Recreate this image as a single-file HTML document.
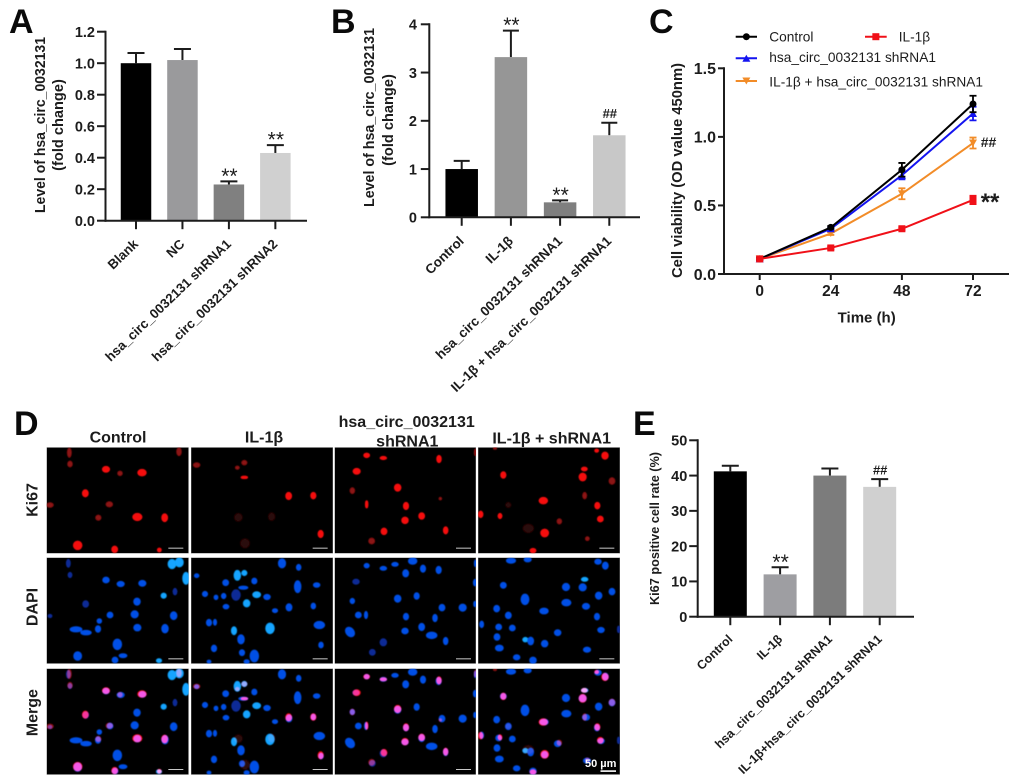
<!DOCTYPE html>
<html lang="en">
<head>
<meta charset="utf-8">
<title>hsa_circ_0032131 figure</title>
<style>
html,body{margin:0;padding:0;background:#fff;width:1020px;height:783px;overflow:hidden}
#fig{filter:blur(.35px)}
svg text{font-family:"Liberation Sans",Arial,sans-serif;fill:#1c1c1c}
.pl{font-size:34px;font-weight:bold;fill:#0a0a0a}
.ti{font-weight:bold;font-size:14.6px}
.hd{font-weight:bold;font-size:16px;text-anchor:middle}
.lg{font-size:13.7px}
ellipse{stroke-width:2.5}
.b{fill:#0650e6;stroke:#0650e6}.c{fill:#12a4ff;stroke:#12a4ff}.d{fill:#0a2c96;stroke:#0a2c96}
.r{fill:#f50f0f;stroke:#f50f0f}.s{fill:#8a1212;stroke:#8a1212}.v{fill:#2c0707;stroke:#2c0707}
.sb{fill:#c8c8c8}
svg svg>rect:first-child{stroke:#999;stroke-width:2}
</style>
</head>
<body>
<svg id="fig" xmlns="http://www.w3.org/2000/svg" width="1020" height="783" viewBox="0 0 1020 783">
<defs>
<filter id="soft" x="-5%" y="-5%" width="110%" height="110%"><feGaussianBlur stdDeviation="1.6"/></filter>
<g id="k1" filter="url(#soft)">
<ellipse class="s" cx="208" cy="158" rx="6" ry="14"/><ellipse class="s" cx="210" cy="192" rx="7" ry="9"/><ellipse class="r" cx="318" cy="208" rx="11" ry="9"/><ellipse class="s" cx="360" cy="220" rx="7" ry="7"/><ellipse class="r" cx="426" cy="218" rx="13" ry="10"/><ellipse class="r" cx="256" cy="280" rx="9" ry="11"/><ellipse class="s" cx="150" cy="315" rx="10" ry="7"/><ellipse class="s" cx="328" cy="313" rx="10" ry="8"/><ellipse class="s" cx="295" cy="353" rx="8" ry="8"/><ellipse class="r" cx="412" cy="351" rx="14" ry="11"/><ellipse class="r" cx="494" cy="353" rx="9" ry="12"/><ellipse class="r" cx="233" cy="436" rx="13" ry="13"/><ellipse class="r" cx="344" cy="448" rx="9" ry="10"/><ellipse class="r" cx="478" cy="450" rx="6" ry="6"/><ellipse class="s" cx="537" cy="155" rx="7" ry="12"/>
</g>
<g id="k2" filter="url(#soft)">
<ellipse class="s" cx="590" cy="195" rx="10" ry="7"/><ellipse class="s" cx="733" cy="188" rx="8" ry="7"/><ellipse class="s" cx="712" cy="203" rx="6" ry="5"/><ellipse class="r" cx="733" cy="232" rx="10" ry="4"/><ellipse class="r" cx="866" cy="288" rx="9" ry="11"/><ellipse class="r" cx="940" cy="287" rx="8" ry="10"/><ellipse class="r" cx="962" cy="402" rx="8" ry="11"/><ellipse class="v" cx="715" cy="352" rx="12" ry="12"/><ellipse class="v" cx="815" cy="350" rx="10" ry="12"/><ellipse class="v" cx="735" cy="430" rx="14" ry="14"/>
</g>
<g id="k3" filter="url(#soft)">
<ellipse class="r" cx="110" cy="166" rx="9" ry="7"/><ellipse class="r" cx="160" cy="174" rx="10" ry="5"/><ellipse class="r" cx="327" cy="177" rx="7" ry="11"/><ellipse class="r" cx="80" cy="214" rx="11" ry="9"/><ellipse class="r" cx="203" cy="263" rx="10" ry="11"/><ellipse class="s" cx="67" cy="272" rx="7" ry="9"/><ellipse class="r" cx="110" cy="313" rx="4" ry="11"/><ellipse class="r" cx="228" cy="318" rx="8" ry="11"/><ellipse class="r" cx="225" cy="361" rx="10" ry="10"/><ellipse class="r" cx="275" cy="348" rx="9" ry="10"/><ellipse class="r" cx="347" cy="391" rx="7" ry="11"/><ellipse class="r" cx="162" cy="394" rx="9" ry="10"/><ellipse class="s" cx="125" cy="423" rx="9" ry="9"/><ellipse class="s" cx="331" cy="296" rx="4" ry="4"/><ellipse class="s" cx="436" cy="157" rx="3" ry="10"/>
</g>
<g id="k4" filter="url(#soft)">
<ellipse class="r" cx="520" cy="225" rx="8" ry="10"/><ellipse class="r" cx="640" cy="302" rx="13" ry="10"/><ellipse class="r" cx="758" cy="231" rx="11" ry="12"/><ellipse class="r" cx="763" cy="207" rx="9" ry="6"/><ellipse class="r" cx="800" cy="152" rx="6" ry="5"/><ellipse class="r" cx="825" cy="167" rx="10" ry="11"/><ellipse class="s" cx="846" cy="243" rx="9" ry="10"/><ellipse class="s" cx="764" cy="287" rx="6" ry="10"/><ellipse class="r" cx="802" cy="317" rx="8" ry="10"/><ellipse class="r" cx="811" cy="357" rx="9" ry="9"/><ellipse class="r" cx="452" cy="343" rx="7" ry="10"/><ellipse class="r" cx="510" cy="348" rx="6" ry="8"/><ellipse class="v" cx="535" cy="315" rx="8" ry="8"/><ellipse class="s" cx="688" cy="364" rx="7" ry="8"/><ellipse class="v" cx="595" cy="385" rx="16" ry="13"/><ellipse class="r" cx="644" cy="399" rx="12" ry="12"/><ellipse class="s" cx="772" cy="416" rx="6" ry="6"/><ellipse class="r" cx="609" cy="452" rx="9" ry="7"/><ellipse class="s" cx="495" cy="145" rx="5" ry="3"/>
</g>
<g id="d1" filter="url(#soft)">
<ellipse class="d" cx="205" cy="490" rx="6" ry="12"/><ellipse class="d" cx="210" cy="525" rx="6" ry="8"/><ellipse class="b" cx="318" cy="540" rx="10" ry="9"/><ellipse class="b" cx="362" cy="552" rx="11" ry="8"/><ellipse class="b" cx="427" cy="550" rx="11" ry="9"/><ellipse class="d" cx="257" cy="612" rx="9" ry="10"/><ellipse class="d" cx="150" cy="648" rx="6" ry="5"/><ellipse class="b" cx="411" cy="605" rx="10" ry="11"/><ellipse class="b" cx="330" cy="645" rx="9" ry="9"/><ellipse class="b" cx="404" cy="643" rx="11" ry="11"/><ellipse class="b" cx="298" cy="663" rx="7" ry="7"/><ellipse class="b" cx="294" cy="687" rx="8" ry="10"/><ellipse class="b" cx="228" cy="688" rx="18" ry="8"/><ellipse class="b" cx="258" cy="698" rx="16" ry="7"/><ellipse class="b" cx="412" cy="683" rx="11" ry="10"/><ellipse class="b" cx="495" cy="686" rx="10" ry="13"/><ellipse class="b" cx="521" cy="647" rx="10" ry="12"/><ellipse class="b" cx="352" cy="733" rx="13" ry="16"/><ellipse class="b" cx="233" cy="768" rx="12" ry="13"/><ellipse class="b" cx="345" cy="780" rx="9" ry="9"/><ellipse class="b" cx="369" cy="767" rx="12" ry="6"/><ellipse class="c" cx="477" cy="782" rx="8" ry="6"/><ellipse class="c" cx="516" cy="492" rx="12" ry="14"/><ellipse class="c" cx="538" cy="487" rx="12" ry="14"/><ellipse class="c" cx="558" cy="535" rx="10" ry="18"/><ellipse class="c" cx="491" cy="587" rx="8" ry="8"/><ellipse class="d" cx="525" cy="575" rx="6" ry="10"/>
</g>
<g id="d2" filter="url(#soft)">
<ellipse class="b" cx="846" cy="490" rx="11" ry="14"/><ellipse class="b" cx="896" cy="502" rx="7" ry="9"/><ellipse class="b" cx="590" cy="527" rx="7" ry="6"/><ellipse class="c" cx="712" cy="526" rx="10" ry="15"/><ellipse class="c" cx="733" cy="519" rx="8" ry="8"/><ellipse class="b" cx="763" cy="543" rx="8" ry="9"/><ellipse class="b" cx="677" cy="548" rx="9" ry="9"/><ellipse class="b" cx="950" cy="555" rx="10" ry="7"/><ellipse class="b" cx="893" cy="560" rx="10" ry="18"/><ellipse class="b" cx="730" cy="563" rx="14" ry="5"/><ellipse class="b" cx="615" cy="582" rx="8" ry="8"/><ellipse class="b" cx="648" cy="592" rx="6" ry="7"/><ellipse class="b" cx="671" cy="588" rx="7" ry="8"/><ellipse class="d" cx="708" cy="585" rx="13" ry="16"/><ellipse class="c" cx="770" cy="584" rx="12" ry="9"/><ellipse class="b" cx="801" cy="591" rx="10" ry="8"/><ellipse class="b" cx="678" cy="620" rx="9" ry="7"/><ellipse class="c" cx="740" cy="610" rx="10" ry="11"/><ellipse class="b" cx="867" cy="622" rx="9" ry="11"/><ellipse class="b" cx="825" cy="632" rx="8" ry="6"/><ellipse class="b" cx="940" cy="618" rx="7" ry="9"/><ellipse class="b" cx="627" cy="668" rx="8" ry="10"/><ellipse class="b" cx="645" cy="667" rx="5" ry="9"/><ellipse class="c" cx="702" cy="692" rx="8" ry="12"/><ellipse class="c" cx="810" cy="685" rx="13" ry="16"/><ellipse class="b" cx="958" cy="675" rx="16" ry="11"/><ellipse class="b" cx="723" cy="718" rx="10" ry="14"/><ellipse class="b" cx="642" cy="745" rx="8" ry="10"/><ellipse class="b" cx="963" cy="735" rx="7" ry="9"/><ellipse class="b" cx="726" cy="758" rx="8" ry="9"/><ellipse class="b" cx="763" cy="768" rx="13" ry="18"/><ellipse class="b" cx="627" cy="785" rx="6" ry="5"/><ellipse class="b" cx="740" cy="785" rx="8" ry="6"/>
</g>
<g id="d3" filter="url(#soft)">
<ellipse class="b" cx="110" cy="497" rx="8" ry="7"/><ellipse class="b" cx="160" cy="505" rx="10" ry="6"/><ellipse class="b" cx="195" cy="493" rx="10" ry="6"/><ellipse class="b" cx="248" cy="483" rx="13" ry="10"/><ellipse class="b" cx="227" cy="520" rx="9" ry="11"/><ellipse class="b" cx="279" cy="506" rx="8" ry="11"/><ellipse class="b" cx="326" cy="510" rx="8" ry="11"/><ellipse class="d" cx="78" cy="545" rx="10" ry="8"/><ellipse class="b" cx="435" cy="548" rx="5" ry="10"/><ellipse class="b" cx="203" cy="596" rx="10" ry="11"/><ellipse class="b" cx="260" cy="588" rx="8" ry="10"/><ellipse class="b" cx="67" cy="603" rx="7" ry="8"/><ellipse class="b" cx="85" cy="645" rx="9" ry="9"/><ellipse class="b" cx="108" cy="645" rx="5" ry="11"/><ellipse class="b" cx="228" cy="650" rx="8" ry="10"/><ellipse class="b" cx="336" cy="623" rx="9" ry="10"/><ellipse class="b" cx="398" cy="623" rx="11" ry="11"/><ellipse class="b" cx="435" cy="612" rx="4" ry="8"/><ellipse class="b" cx="315" cy="654" rx="7" ry="11"/><ellipse class="b" cx="225" cy="693" rx="10" ry="9"/><ellipse class="b" cx="275" cy="681" rx="9" ry="11"/><ellipse class="b" cx="305" cy="706" rx="16" ry="10"/><ellipse class="b" cx="347" cy="723" rx="7" ry="11"/><ellipse class="b" cx="60" cy="696" rx="12" ry="16" transform="rotate(-40 60 696)"/><ellipse class="d" cx="160" cy="727" rx="10" ry="11"/><ellipse class="d" cx="127" cy="757" rx="9" ry="9"/><ellipse class="b" cx="436" cy="490" rx="3" ry="10"/>
</g>
<g id="d4" filter="url(#soft)">
<ellipse class="b" cx="543" cy="482" rx="14" ry="8"/><ellipse class="b" cx="593" cy="479" rx="11" ry="7"/><ellipse class="b" cx="804" cy="485" rx="10" ry="8"/><ellipse class="b" cx="826" cy="497" rx="9" ry="11"/><ellipse class="c" cx="764" cy="538" rx="10" ry="6"/><ellipse class="b" cx="520" cy="556" rx="9" ry="9"/><ellipse class="b" cx="708" cy="561" rx="11" ry="11"/><ellipse class="b" cx="758" cy="562" rx="11" ry="11"/><ellipse class="b" cx="806" cy="587" rx="10" ry="11"/><ellipse class="b" cx="846" cy="575" rx="9" ry="10"/><ellipse class="b" cx="585" cy="598" rx="12" ry="16"/><ellipse class="b" cx="709" cy="608" rx="14" ry="10"/><ellipse class="b" cx="768" cy="619" rx="11" ry="9"/><ellipse class="b" cx="642" cy="633" rx="13" ry="9"/><ellipse class="b" cx="500" cy="626" rx="9" ry="10"/><ellipse class="b" cx="535" cy="646" rx="9" ry="10"/><ellipse class="b" cx="801" cy="650" rx="8" ry="10"/><ellipse class="b" cx="455" cy="673" rx="6" ry="10"/><ellipse class="b" cx="506" cy="681" rx="9" ry="9"/><ellipse class="b" cx="547" cy="684" rx="9" ry="9"/><ellipse class="b" cx="813" cy="690" rx="10" ry="8"/><ellipse class="b" cx="683" cy="698" rx="10" ry="9"/><ellipse class="b" cx="501" cy="711" rx="9" ry="10"/><ellipse class="c" cx="586" cy="719" rx="8" ry="7"/><ellipse class="b" cx="602" cy="723" rx="9" ry="12"/><ellipse class="b" cx="644" cy="731" rx="10" ry="10"/><ellipse class="b" cx="508" cy="744" rx="12" ry="9"/><ellipse class="b" cx="771" cy="749" rx="11" ry="8"/><ellipse class="b" cx="560" cy="772" rx="10" ry="8"/><ellipse class="b" cx="609" cy="781" rx="10" ry="10"/><ellipse class="d" cx="866" cy="688" rx="4" ry="10"/>
</g>
</defs>

<rect width="1020" height="783" fill="#fff"/>

<text class="pl" x="9" y="33">A</text>
<text class="pl" x="331" y="33">B</text>
<text class="pl" x="649" y="33">C</text>
<text class="pl" x="14" y="435">D</text>
<text class="pl" x="633" y="435">E</text>

<text class="ti" transform="translate(45,213) rotate(-90)" textLength="176" lengthAdjust="spacingAndGlyphs">Level of hsa_circ_0032131</text>
<text class="ti" text-anchor="middle" transform="translate(63,125) rotate(-90)">(fold change)</text>
<text class="ti" transform="translate(374,207) rotate(-90)" textLength="179" lengthAdjust="spacingAndGlyphs">Level of hsa_circ_0032131</text>
<text class="ti" text-anchor="middle" transform="translate(393,120) rotate(-90)">(fold change)</text>
<text class="ti" style="font-size:14.8px" transform="translate(682,278) rotate(-90)" textLength="215" lengthAdjust="spacingAndGlyphs">Cell viability (OD value 450nm)</text>
<text class="ti" style="font-size:15px" text-anchor="middle" x="866.7" y="322.7">Time (h)</text>
<text class="ti" style="font-size:13px" transform="translate(659,605) rotate(-90)" textLength="153" lengthAdjust="spacingAndGlyphs">Ki67 positive cell rate (%)</text>

<text class="hd" x="118" y="442.7">Control</text>
<text class="hd" x="264" y="442.7">IL-1β</text>
<text class="hd" x="406.7" y="427">hsa_circ_0032131</text>
<text class="hd" x="407.3" y="446.7">shRNA1</text>
<text class="hd" x="551.7" y="443.3">IL-1β + shRNA1</text>
<text class="hd" transform="translate(37.5,500) rotate(-90)">Ki67</text>
<text class="hd" transform="translate(37.5,607) rotate(-90)">DAPI</text>
<text class="hd" transform="translate(37.5,712.7) rotate(-90)">Merge</text>

<svg x="46.67" y="447.33" width="142" height="106" viewBox="140 142 426 318"><rect x="140" y="142" width="426" height="318"/><use href="#k1"/><rect class="sb" x="505" y="443" width="45" height="3"/></svg>
<svg x="191" y="447.33" width="142" height="106" viewBox="573 142 426 318"><rect x="573" y="142" width="426" height="318"/><use href="#k2"/><rect class="sb" x="938" y="443" width="45" height="3"/></svg>
<svg x="334.67" y="447.33" width="141.33" height="106" viewBox="14 142 424 318"><rect x="14" y="142" width="424" height="318"/><use href="#k3"/><rect class="sb" x="378" y="443" width="45" height="3"/></svg>
<svg x="478" y="447.33" width="142" height="106" viewBox="444 142 426 318"><rect x="444" y="142" width="426" height="318"/><use href="#k4"/><rect class="sb" x="808" y="443" width="45" height="3"/></svg>

<svg x="46.67" y="557.67" width="142" height="106" viewBox="140 473 426 318"><rect x="140" y="473" width="426" height="318"/><use href="#d1"/><rect class="sb" x="505" y="775" width="45" height="3"/></svg>
<svg x="191" y="557.67" width="142" height="106" viewBox="573 473 426 318"><rect x="573" y="473" width="426" height="318"/><use href="#d2"/><rect class="sb" x="938" y="775" width="45" height="3"/></svg>
<svg x="334.67" y="557.67" width="141.33" height="106" viewBox="14 473 424 318"><rect x="14" y="473" width="424" height="318"/><use href="#d3"/><rect class="sb" x="378" y="775" width="45" height="3"/></svg>
<svg x="478" y="557.67" width="142" height="106" viewBox="444 473 426 318"><rect x="444" y="473" width="426" height="318"/><use href="#d4"/><rect class="sb" x="808" y="775" width="45" height="3"/></svg>

<svg x="46.67" y="668.67" width="142" height="106" viewBox="140 806 426 318"><rect x="140" y="806" width="426" height="318"/><use href="#d1" y="333"/><use href="#k1" y="664" style="mix-blend-mode:screen"/><rect class="sb" x="505" y="1107" width="45" height="3"/></svg>
<svg x="191" y="668.67" width="142" height="106" viewBox="573 806 426 318"><rect x="573" y="806" width="426" height="318"/><use href="#d2" y="333"/><use href="#k2" y="664" style="mix-blend-mode:screen"/><rect class="sb" x="938" y="1107" width="45" height="3"/></svg>
<svg x="334.67" y="668.67" width="141.33" height="106" viewBox="14 806 424 318"><rect x="14" y="806" width="424" height="318"/><use href="#d3" y="333"/><use href="#k3" y="664" style="mix-blend-mode:screen"/><rect class="sb" x="378" y="1107" width="45" height="3"/></svg>
<svg x="478" y="668.67" width="142" height="106" viewBox="444 806 426 318"><rect x="444" y="806" width="426" height="318"/><use href="#d4" y="333"/><use href="#k4" y="664" style="mix-blend-mode:screen"/></svg>
<text x="585" y="767" style="font-size:11px;font-weight:bold;fill:#fff">50 µm</text>
<rect x="600.5" y="770.3" width="15.5" height="1.6" fill="#fff"/>
</svg>

<script>
const categoriesA = ['Blank', 'NC', 'hsa_circ_0032131 shRNA1', 'hsa_circ_0032131 shRNA2'];
const valuesA = [1.0, 1.02, 0.23, 0.43];
const errorsA = [0.065, 0.07, 0.02, 0.05];
const marksA = ['', '', '**', '**'];
const yTicksA = [0, 0.2, 0.4, 0.6, 0.8, 1.0, 1.2];
const coloursA = ['#000000', '#9a9a9c', '#808080', '#d0d0d0'];

const categoriesB = ['Control', 'IL-1β', 'hsa_circ_0032131 shRNA1', 'IL-1β + hsa_circ_0032131 shRNA1'];
const valuesB = [1.0, 3.32, 0.31, 1.7];
const errorsB = [0.17, 0.55, 0.04, 0.26];
const marksB = ['', '**', '**', '##'];
const yTicksB = [0, 1, 2, 3, 4];
const coloursB = ['#000000', '#969696', '#7f7f7f', '#c8c8c8'];

const categoriesE = ['Control', 'IL-1β', 'hsa_circ_0032131 shRNA1', 'IL-1β+hsa_circ_0032131 shRNA1'];
const valuesE = [41.2, 12, 40, 36.8];
const errorsE = [1.6, 2, 2, 2.2];
const marksE = ['', '**', '', '##'];
const yTicksE = [0, 10, 20, 30, 40, 50];
const coloursE = ['#000000', '#9e9ea2', '#7c7c7c', '#d0d0d0'];

const hoursC = [0, 24, 48, 72];
const yTicksC = [0, 0.5, 1.0, 1.5];
const controlValues = [0.11, 0.34, 0.76, 1.24];
const controlErrors = [0.01, 0.01, 0.05, 0.06];
const shrnaValues = [0.11, 0.33, 0.72, 1.17];
const shrnaErrors = [0.01, 0.01, 0.03, 0.05];
const comboValues = [0.11, 0.295, 0.585, 0.955];
const comboErrors = [0.01, 0.01, 0.04, 0.04];
const il1bValues = [0.11, 0.19, 0.33, 0.54];
const il1bErrors = [0.005, 0.01, 0.01, 0.03];

const NS = 'http://www.w3.org/2000/svg';
const root = document.getElementById('fig');
const AXIS = '#1c1c1c';

function make(tag, attrs) {
  const el = document.createElementNS(NS, tag);
  for (const k in attrs) el.setAttribute(k, attrs[k]);
  root.appendChild(el);
  return el;
}

function drawAxisLine(x1, y1, x2, y2, w) {
  const el = make('line', {x1: x1, y1: y1, x2: x2, y2: y2, stroke: AXIS, 'stroke-width': w});
  
  
}

function drawYAxis(ticks, scale, axisX, y0, yTop, tickLen, labelRight, size, digits) {
  drawAxisLine(axisX, y0 + 1, axisX, yTop - 1, 2);
  ticks.forEach(function (t) {
    const tick = make('line', {x1: axisX - tickLen, y1: scale(t), x2: axisX, y2: scale(t), stroke: AXIS, 'stroke-width': 2});
    
    
    const label = make('text', {x: labelRight, y: scale(t) + size * 0.36, 'text-anchor': 'end', 'font-size': size, 'font-weight': 'bold'});
    label.textContent = t.toFixed(digits);
    
    
  });
}

function drawBars(cfg, cats, vals, errs, marks, ticks, colours) {
  const scale = function (v) { return cfg.y0 - v / ticks[ticks.length - 1] * (cfg.y0 - cfg.yTop); };
  const band = function (i) { return cfg.first + i * cfg.step; };
  drawYAxis(ticks, scale, cfg.axisX, cfg.y0, cfg.yTop, cfg.tickLen, cfg.labelRight, 14.5, cfg.digits);
  cats.forEach(function (name, i) {
    const cx = band(i);
    const top = scale(vals[i]);
    const errTop = scale(vals[i] + errs[i]);
    const stem = make('line', {x1: cx, y1: top, x2: cx, y2: errTop, stroke: AXIS, 'stroke-width': 2});
    
    
    const cap = make('line', {x1: cx - cfg.cap / 2, y1: errTop, x2: cx + cfg.cap / 2, y2: errTop, stroke: AXIS, 'stroke-width': 2});
    
    
    const bar = make('rect', {x: cx - cfg.barW / 2, y: top, width: cfg.barW, height: cfg.y0 - top, fill: colours[i]});
    
    
    const tick = make('line', {x1: cx, y1: cfg.y0, x2: cx, y2: cfg.y0 + 8.5, stroke: AXIS, 'stroke-width': 2});
    
    
    const lx = cx + 3;
    const ly = cfg.labelY;
    const label = make('text', {transform: 'translate(' + lx + ',' + ly + ') rotate(-44)', 'text-anchor': 'end', 'font-size': cfg.labelSize, 'font-weight': 'bold'});
    label.textContent = name;
    
    
    if (marks[i]) {
      const isStar = marks[i] === '**';
      const note = make('text', {x: cx + 0.5, y: errTop + (isStar ? 1.5 : -4.5), 'text-anchor': 'middle', 'font-size': isStar ? 21 : 13, 'font-weight': isStar ? 'normal' : 'bold'});
      note.textContent = marks[i];
      
      
    }
  });
  drawAxisLine(cfg.axisX - 1, cfg.y0, cfg.xEnd, cfg.y0, 2);
}

drawBars({axisX: 105.5, y0: 220.7, yTop: 31.7, first: 136, step: 46.45, barW: 30.5, cap: 17, tickLen: 8.5, labelRight: 95, digits: 1, xEnd: 307, labelY: 245, labelSize: 13.3},
  categoriesA, valuesA, errorsA, marksA, yTicksA, coloursA);
drawBars({axisX: 429.3, y0: 217.3, yTop: 24.3, first: 461.7, step: 49.2, barW: 32.5, cap: 16, tickLen: 8.5, labelRight: 417, digits: 0, xEnd: 640, labelY: 242, labelSize: 13.4},
  categoriesB, valuesB, errorsB, marksB, yTicksB, coloursB);
drawBars({axisX: 697.7, y0: 616.7, yTop: 440.3, first: 730.3, step: 49.8, barW: 33, cap: 17, tickLen: 8.5, labelRight: 687.3, digits: 0, xEnd: 914, labelY: 640, labelSize: 12.4},
  categoriesE, valuesE, errorsE, marksE, yTicksE, coloursE);

/* Panel C */
const xC = function (h) { return 759.7 + h / hoursC[hoursC.length - 1] * 213.3; };
const yC = function (v) { return 274 - v / yTicksC[yTicksC.length - 1] * 205.7; };
drawYAxis(yTicksC, yC, 724, 274, 68.3, 6, 716, 16, 1);
drawAxisLine(723, 274, 1009, 274, 2);
hoursC.forEach(function (h) {
  const tick = make('line', {x1: xC(h), y1: 274, x2: xC(h), y2: 280, stroke: AXIS, 'stroke-width': 2});
  
  
  const label = make('text', {x: xC(h), y: 296, 'text-anchor': 'middle', 'font-size': 15.5, 'font-weight': 'bold'});
  label.textContent = String(h);
  
  
});

function marker(kind, x, y, colour) {
  if (kind === 'circle') return make('circle', {cx: x, cy: y, r: 3.5, fill: colour});
  if (kind === 'square') return make('rect', {x: x - 3.5, y: y - 3.5, width: 7, height: 7, fill: colour});
  if (kind === 'up') return make('polygon', {points: (x - 4) + ',' + (y + 3.5) + ' ' + (x + 4) + ',' + (y + 3.5) + ' ' + x + ',' + (y - 3.5), fill: colour});
  return make('polygon', {points: (x - 4) + ',' + (y - 3.5) + ' ' + (x + 4) + ',' + (y - 3.5) + ' ' + x + ',' + (y + 3.5), fill: colour});
}

function drawSeries(vals, errs, colour, kind) {
  const line = make('polyline', {points: vals.map(function (v, i) { return xC(hoursC[i]) + ',' + yC(v); }).join(' '), fill: 'none', stroke: colour, 'stroke-width': 2});
  
  
  vals.forEach(function (v, i) {
    const x = xC(hoursC[i]);
    const up = yC(v + errs[i]);
    const down = yC(v - errs[i]);
    const err = make('path', {d: 'M' + (x - 3.5) + ' ' + up + 'H' + (x + 3.5) + 'M' + x + ' ' + up + 'V' + down + 'M' + (x - 3.5) + ' ' + down + 'H' + (x + 3.5), fill: 'none', stroke: colour, 'stroke-width': 1.8});
    
    
    const m = marker(kind, x, yC(v), colour);
    
    
  });
}
drawSeries(comboValues, comboErrors, '#f28c28', 'down');
drawSeries(shrnaValues, shrnaErrors, '#1414f0', 'up');
drawSeries(controlValues, controlErrors, '#000000', 'circle');
drawSeries(il1bValues, il1bErrors, '#f01018', 'square');

function legendEntry(x1, x2, y, colour, kind, tx, ty, text) {
  const ln = make('line', {x1: x1, y1: y, x2: x2, y2: y, stroke: colour, 'stroke-width': 2});
  
  
  const m = marker(kind, (x1 + x2) / 2, y, colour);
  
  
  const t = make('text', {x: tx, y: ty, class: 'lg'});
  t.textContent = text;
  
  
}
legendEntry(735.7, 757, 36.7, '#000000', 'circle', 769.3, 41.5, 'Control');
legendEntry(865, 886.7, 36.7, '#f01018', 'square', 898.7, 41.5, 'IL-1β');
legendEntry(735.7, 757, 58.3, '#1414f0', 'up', 769.3, 62, 'hsa_circ_0032131 shRNA1');
legendEntry(735.7, 757, 81, '#f28c28', 'down', 769.3, 86.7, 'IL-1β + hsa_circ_0032131 shRNA1');

const hashC = make('text', {x: 980.7, y: 147, 'font-size': 14, 'font-weight': 'bold'});
hashC.textContent = '##';


const starC = make('text', {x: 980.7, y: 210, 'font-size': 24, 'font-weight': 'bold'});
starC.textContent = '**';


</script>
</body>
</html>
